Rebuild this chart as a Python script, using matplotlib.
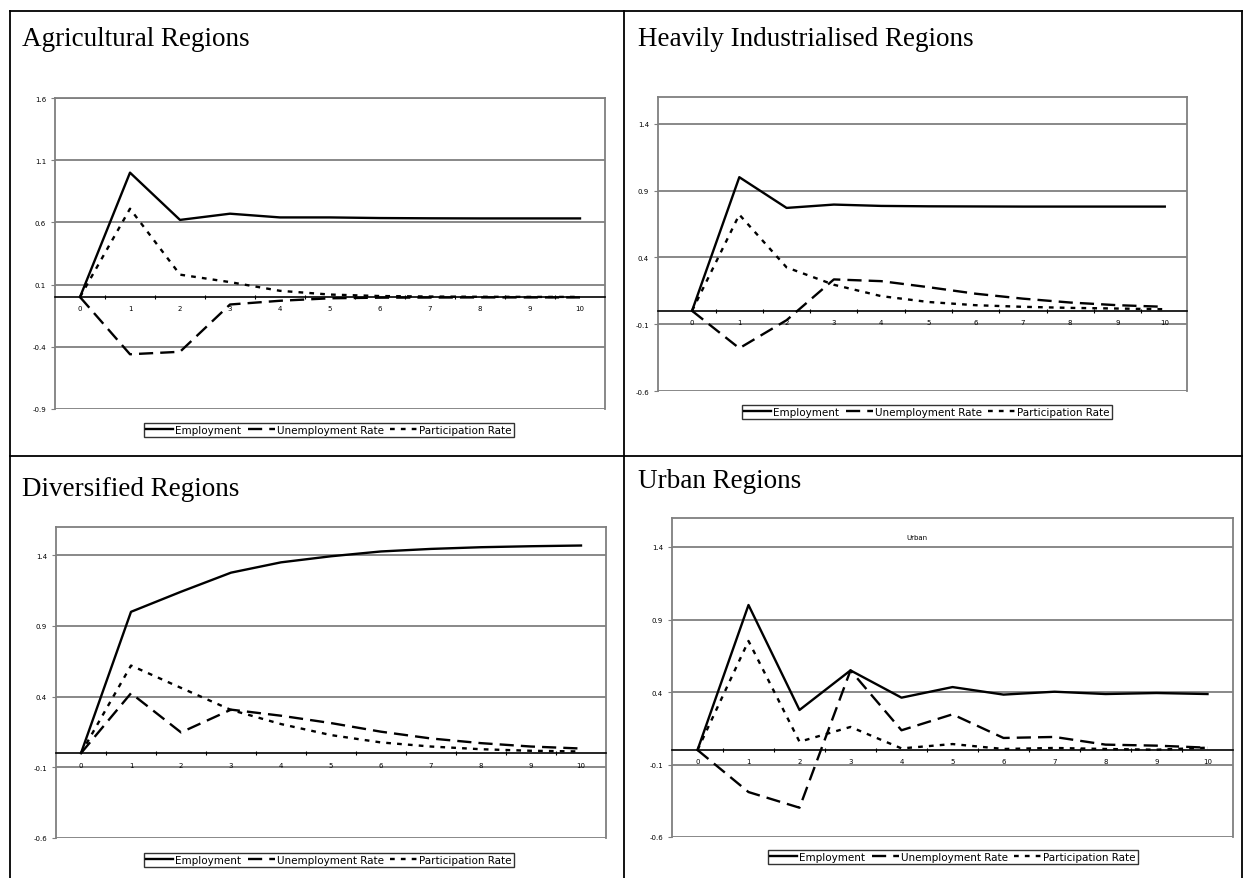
import numpy as np
import matplotlib
matplotlib.use("Agg")
import matplotlib.pyplot as plt
from matplotlib.lines import Line2D

W, H = 1243, 879

periods = list(range(11))

# Agricultural Regions
agr_emp = [0, 1.00, 0.62, 0.67, 0.64, 0.64, 0.635, 0.633, 0.632, 0.632, 0.632]
agr_unemp = [0, -0.46, -0.44, -0.06, -0.03, -0.01, -0.005, -0.004, -0.003, -0.003, -0.003]
agr_part = [0, 0.71, 0.18, 0.12, 0.05, 0.02, 0.008, 0.004, 0.002, 0.001, 0.001]

# Heavily Industrialised Regions
ind_emp = [0, 1.00, 0.77, 0.795, 0.785, 0.782, 0.781, 0.780, 0.780, 0.780, 0.780]
ind_unemp = [0, -0.28, -0.07, 0.235, 0.222, 0.177, 0.128, 0.091, 0.062, 0.042, 0.03]
ind_part = [0, 0.72, 0.325, 0.195, 0.11, 0.066, 0.042, 0.03, 0.022, 0.017, 0.012]

# Diversified Regions
div_emp = [0, 1.00, 1.142, 1.277, 1.35, 1.393, 1.427, 1.445, 1.457, 1.464, 1.469]
div_unemp = [0, 0.424, 0.147, 0.308, 0.265, 0.213, 0.152, 0.104, 0.071, 0.047, 0.033]
div_part = [0, 0.62, 0.462, 0.306, 0.206, 0.128, 0.076, 0.047, 0.028, 0.017, 0.012]

# Urban Regions
urb_emp = [0, 1.00, 0.276, 0.549, 0.361, 0.434, 0.382, 0.402, 0.386, 0.393, 0.386]
urb_unemp = [0, -0.29, -0.398, 0.549, 0.136, 0.246, 0.083, 0.09, 0.037, 0.03, 0.016]
urb_part = [0, 0.752, 0.057, 0.159, 0.011, 0.041, 0.007, 0.014, 0.007, 0.002, 0.016]

titles = ["Agricultural Regions", "Heavily Industrialised Regions",
          "Diversified Regions", "Urban Regions"]
series = [(agr_emp, agr_unemp, agr_part), (ind_emp, ind_unemp, ind_part),
          (div_emp, div_unemp, div_part), (urb_emp, urb_unemp, urb_part)]
y_mins = [-0.9, -0.6, -0.6, -0.6]
y_max = 1.6
labels = ["Employment", "Unemployment Rate", "Participation Rate"]

# layout in pixels: left, right, top, bottom of each plot area
boxes = [(55, 605, 99, 410), (658, 1187, 98, 392),
         (56, 606, 528, 839), (672, 1233, 519, 838)]
xlims = [(-0.5, 10.5), (-0.72, 10.47), (-0.5, 10.5), (-0.5, 10.5)]
legend_centres = [(329, 431), (927, 413), (329, 861), (953, 858)]
title_pos = [(22, 40), (638, 40), (22, 490), (638, 482)]

styles = [dict(ls="-"), dict(ls=(0, (6, 3))), dict(ls=(0, (2, 2.6)))]

fig = plt.figure(figsize=(W / 100, H / 100), dpi=100)

# table borders
border = dict(color="black", lw=1.3, transform=fig.transFigure)
fig.add_artist(Line2D([10 / W, 1242 / W], [1 - 12 / H, 1 - 12 / H], **border))
fig.add_artist(Line2D([10 / W, 1242 / W], [1 - 457 / H, 1 - 457 / H], **border))
fig.add_artist(Line2D([10 / W, 10 / W], [0, 1 - 12 / H], **border))
fig.add_artist(Line2D([624 / W, 624 / W], [0, 1 - 12 / H], **border))
fig.add_artist(Line2D([1242 / W, 1242 / W], [0, 1 - 12 / H], **border))

for i in range(4):
    l, r, t, b = boxes[i]
    ax = fig.add_axes([l / W, 1 - b / H, (r - l) / W, (b - t) / H])
    emp, unemp, part = series[i]
    handles = []
    for vals, st, lab in zip((emp, unemp, part), styles, labels):
        h, = ax.plot(periods, vals, color="black", lw=1.7, label=lab, **st)
        handles.append(h)

    ax.set_xlim(*xlims[i])
    ax.set_ylim(y_mins[i], y_max)
    yt = np.arange(y_mins[i], y_max + 0.01, 0.5)
    ax.set_yticks(yt)
    ax.set_yticklabels(["%.1f" % v for v in yt])
    for v in yt:
        ax.axhline(v, color="#7f7f7f", lw=1.3, zorder=0)

    ax.set_xticks(periods)
    ax.set_xticks(np.arange(0.5, 10, 1), minor=True)
    ax.tick_params(axis="x", which="major", length=0, labelsize=5, pad=6)
    ax.tick_params(axis="x", which="minor", length=3, direction="inout", width=0.8)
    ax.tick_params(axis="y", length=3, labelsize=5, width=0.8, color="#7f7f7f")

    ax.spines["bottom"].set_position(("data", 0))
    ax.spines["bottom"].set_color("black")
    ax.spines["bottom"].set_linewidth(1.2)
    for s in ("left", "top", "right"):
        ax.spines[s].set_color("#7f7f7f")
        ax.spines[s].set_linewidth(1.3)

    if i == 3:
        ax.text(4.3, 1.47, "Urban", fontsize=5, ha="center", va="center")

    cx, cy = legend_centres[i]
    fig.legend(handles=handles, loc="center", bbox_to_anchor=(cx / W, 1 - cy / H),
               ncol=3, fontsize=7.5, frameon=True, fancybox=False, edgecolor="black",
               handlelength=2.6, handletextpad=0.2, columnspacing=0.6,
               borderpad=0.2, borderaxespad=0)

    tx, ty = title_pos[i]
    fig.text(tx / W, 1 - ty / H, titles[i], fontsize=19.5, family="Liberation Serif",
             ha="left", va="center")

fig.savefig("out.png", dpi=100)
